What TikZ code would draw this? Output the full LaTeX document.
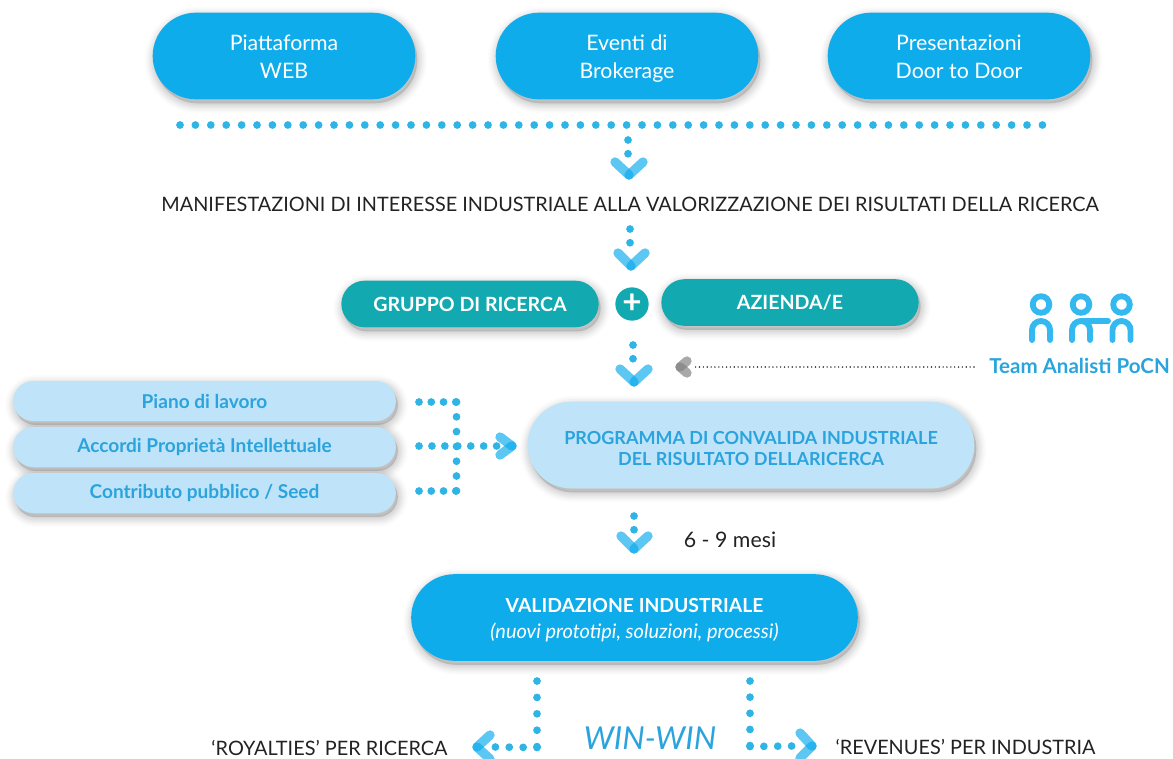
\documentclass[tikz,border=0pt]{standalone}
\usepackage{fontspec}
\setmainfont{Lato}
\usetikzlibrary{shapes.misc,shadows}
\definecolor{cyanb}{HTML}{0FACEC}
\definecolor{teal1}{HTML}{12AAB0}
\definecolor{pale}{HTML}{BFE4FA}
\definecolor{dotb}{HTML}{2FB4E6}
\definecolor{txtb}{HTML}{2BA3DC}
\definecolor{ink}{HTML}{222222}
\tikzset{
  softsh/.style={
    general shadow={shadow xshift=1.5pt,shadow yshift=-3pt,fill=black,draw=black,line width=15pt,opacity=.012},
    general shadow={shadow xshift=1.5pt,shadow yshift=-3pt,fill=black,draw=black,line width=12.5pt,opacity=.018},
    general shadow={shadow xshift=1.5pt,shadow yshift=-3pt,fill=black,draw=black,line width=10pt,opacity=.024},
    general shadow={shadow xshift=1.5pt,shadow yshift=-3pt,fill=black,draw=black,line width=7.5pt,opacity=.03},
    general shadow={shadow xshift=1.5pt,shadow yshift=-3pt,fill=black,draw=black,line width=5pt,opacity=.035},
    general shadow={shadow xshift=1.5pt,shadow yshift=-3pt,fill=black,draw=black,line width=2.5pt,opacity=.035}},
  pill/.style={rounded rectangle,inner sep=0pt,align=center,softsh},
  bluepill/.style={pill,fill=cyanb,text=white,minimum width=197pt,minimum height=65pt,font=\fontsize{16}{21}\selectfont},
  tealpill/.style={pill,fill=teal1,text=white,minimum width=193pt,minimum height=35pt,font=\fontsize{14.7}{17}\selectfont\bfseries},
  sidepill/.style={pill,fill=pale,text=txtb,minimum width=287pt,minimum height=30pt,font=\fontsize{14.3}{16}\selectfont\bfseries},
  bigpale/.style={pill,fill=pale,text=txtb,minimum width=335pt,minimum height=65pt,font=\fontsize{13.5}{16}\selectfont\bfseries},
  bigblue/.style={pill,fill=cyanb,text=white,minimum width=335pt,minimum height=65pt,font=\fontsize{14.5}{19.5}\selectfont},
  dotline/.style={draw=dotb,line width=5.8pt,line cap=round,dash pattern=on 0pt off 10.3pt},
  dotrow/.style={draw=dotb,line width=5.8pt,line cap=round,dash pattern=on 0pt off 10pt},
  chevarm/.style={draw=#1,line width=7pt,line cap=round,draw opacity=.68},
  chevarm/.default=cyanb,
  caption/.style={text=ink,inner sep=0pt,font=\fontsize{14.9}{17}\selectfont},
  iconline/.style={draw=cyanb!85,line width=4.4pt,line cap=round},
}
\newcommand\chev[4][cyanb]{\draw[chevarm=#1] (#2)--(#3);\draw[chevarm=#1] (#2)--(#4);}
\newcommand\topstrut{\rule{0pt}{19.2pt}}
\newcommand\midstrut{\rule{0pt}{15pt}}
\begin{document}
\begin{tikzpicture}[x=0.75pt,y=-0.75pt]
\useasboundingbox (0,0) rectangle (1173,758);
% top
\node[bluepill] (web) at (284,56) {\topstrut Piattaforma\strut\\WEB\strut};
\node[bluepill] (brok) at (627,56) {\topstrut Eventi di\strut\\Brokerage\strut};
\node[bluepill] (door) at (959,56) {\topstrut Presentazioni\strut\\Door to Door\strut};
\coordinate (rowL) at (180,125); \coordinate (rowR) at (1047,125);
\draw[dotrow,dash pattern=on 0pt off 11.55pt] (rowL)--(rowR);
\coordinate (a1) at (628,140); \coordinate (a1e) at (628,158);
\draw[dotline] (a1)--(a1e);
\chev{629,175}{615,162}{643,162}
\node[caption] (manif) at (630,204) {MANIFESTAZIONI DI INTERESSE INDUSTRIALE ALLA VALORIZZAZIONE DEI RISULTATI DELLA RICERCA};
\coordinate (a2) at (630,229); \coordinate (a2e) at (630,247);
\draw[dotline] (a2)--(a2e);
\chev{631,266}{618,253}{645,253}
% middle
\node[tealpill] (gruppo) at (470,304) {GRUPPO DI RICERCA};
\node[tealpill] (azienda) at (790,302.5) {AZIENDA/E};
\node[circle,fill=teal1,text=white,minimum size=25pt,inner sep=0pt,font=\fontsize{25}{25}\selectfont\bfseries] (plus) at (632,304) {+};
% team icon
\foreach \cx in {1041,1081,1121.5}{\draw[iconline] (\cx,304.5) circle[radius=6.2pt];}
\foreach \cx in {1041,1081,1121.5}{
  \draw[iconline] (\cx-9,340) -- (\cx-9,330) arc[start angle=180,end angle=0,radius=6.75pt] -- (\cx+9,340);}
\draw[iconline] (1081,321) -- (1108,321);
\node[inner sep=0pt,text=txtb,font=\fontsize{15.4}{17}\selectfont\bfseries] (team) at (1079.5,366) {Team Analisti PoCN};
% team arrow
\coordinate (teamS) at (974,367); \coordinate (teamE) at (692,367);
\draw[ink,line width=1.2pt,line cap=round,dash pattern=on 0pt off 2.9pt] (teamS)--(teamE);
\chev[gray]{680,367}{687,361}{687,373}
\coordinate (a3) at (633,345); \coordinate (a3e) at (633,363);
\draw[dotline] (a3)--(a3e);
\chev{634,382}{620,369}{648,369}
% side pills
\node[sidepill] (piano) at (204.5,401) {Piano di lavoro};
\node[sidepill] (accordi) at (204.5,447) {Accordi Proprietà Intellettuale};
\node[sidepill] (contrib) at (204.5,493) {Contributo pubblico / Seed};
\node[bigpale] (prog) at (751,445) {\midstrut PROGRAMMA DI CONVALIDA INDUSTRIALE\\DEL RISULTATO DELLARICERCA};
\coordinate (s1) at (419,402); \coordinate (j1) at (456.5,402);
\coordinate (s2) at (419,446); \coordinate (j2) at (497,446);
\coordinate (s3) at (419,491); \coordinate (j3) at (456.5,491);
\draw[dotrow,dash pattern=on 0pt off 9.2pt] (s1)--(j1);
\draw[dotrow,dash pattern=on 0pt off 9.2pt] (s3)--(j3);
\draw[dotrow,dash pattern=on 0pt off 9.7pt] (s2)--(j2);
\draw[dotrow,dash pattern=on 0pt off 11.1pt] (j1)--(j3);
\chev{512,446}{500,437}{500,455}
% 6-9
\coordinate (a4) at (634,516); \coordinate (a4e) at (634,534);
\draw[dotline] (a4)--(a4e);
\chev{634,549}{621,536}{648,536}
\node[caption,font=\fontsize{16}{18}\selectfont] (mesi) at (730,540) {6 - 9 mesi};
% validazione
\node[bigblue] (val) at (634.5,617.5) {\midstrut\bfseries VALIDAZIONE INDUSTRIALE\\{\fontsize{15}{19.5}\selectfont\itshape (nuovi prototipi, soluzioni, processi)}};
% bottom
\coordinate (bl) at (537,681); \coordinate (blc) at (537,747.5); \coordinate (ble) at (495,747);
\coordinate (br) at (750,681); \coordinate (brc) at (750,746.5); \coordinate (bre) at (792.5,746);
\draw[dotrow,dash pattern=on 0pt off 12.3pt] (bl)--(blc);
\draw[dotrow,dash pattern=on 0pt off 10.4pt] (blc)--(ble);
\draw[dotrow,dash pattern=on 0pt off 12.1pt] (br)--(brc);
\draw[dotrow,dash pattern=on 0pt off 10.4pt] (brc)--(bre);
\chev{477,747}{490,735}{490,759}
\chev{812,746}{800,733}{800,758}
\node[caption] (roy) at (329.5,748) {‘ROYALTIES’ PER RICERCA};
\node[caption] (rev) at (965.5,747) {‘REVENUES’ PER INDUSTRIA};
\node[inner sep=0pt,text=txtb,font=\fontsize{23.7}{25}\selectfont\itshape] (win) at (650,738) {WIN-WIN};
\end{tikzpicture}
\end{document}
